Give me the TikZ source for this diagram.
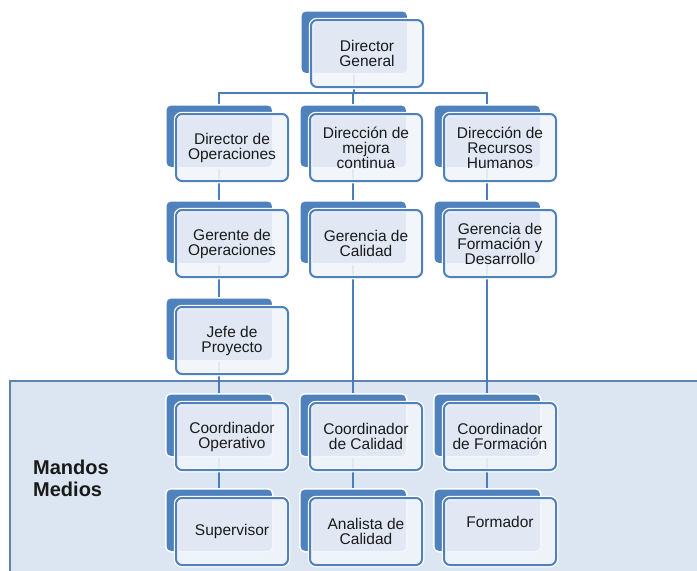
\documentclass[tikz,border=0pt]{standalone}
\usepackage{fontspec}
\setmainfont{Liberation Sans}
\usetikzlibrary{calc}
\definecolor{boxblue}{HTML}{4F81BD}
\definecolor{linkblue}{HTML}{4A7EBB}
\definecolor{bandfill}{HTML}{DCE6F2}
\definecolor{bandline}{HTML}{5E82B0}
\definecolor{frontfill}{HTML}{F1F4FA}
\definecolor{txt}{HTML}{1A1A1A}
\pgfdeclarelayer{bandlayer}
\pgfdeclarelayer{linelayer}
\pgfsetlayers{bandlayer,linelayer,main}
\tikzset{
  backbox/.style={fill=boxblue, draw=white, line width=1.5pt, rounded corners=5pt,
    minimum width=107pt, minimum height=63pt, inner sep=0pt, anchor=north west},
  frontbox/.style={fill=frontfill, fill opacity=0.9, draw=boxblue, line width=2pt,
    rounded corners=6pt, minimum width=112pt, minimum height=67pt, inner sep=0pt,
    anchor=north west, preaction={draw=white, line width=4.5pt, fill=none}},
  boxtext/.style={font=\fontsize{15.5}{15}\selectfont, align=center, text=txt, inner sep=0pt},
  conn/.style={draw=linkblue, line width=2pt},
}
\newcommand\orgbox[5][0pt]{%
  \node[backbox] (#2) at (#3,#4) {};
  \node[frontbox] (#2f) at ($(#2.north west)+(10,9)$) {};
  \node[boxtext] (#2t) at ([yshift=#1]#2f.center) {#5};
}
\begin{document}
\begin{tikzpicture}[x=1pt,y=-1pt]
\useasboundingbox (0,0) rectangle (697,571);
% boxes
\orgbox{dg}{300}{10}{Director\\General}
\orgbox{dop}{165}{104}{Director de\\Operaciones}
\orgbox{dmc}{299}{104}{Dirección de\\mejora\\continua}
\orgbox{drh}{433}{104}{Dirección de\\Recursos\\Humanos}
\orgbox{gop}{165}{200}{Gerente de\\Operaciones}
\orgbox{gca}{299}{200}{Gerencia de\\Calidad}
\orgbox{gfd}{433}{200}{Gerencia de\\Formación y\\Desarrollo}
\orgbox{jp}{165}{297}{Jefe de\\Proyecto}
\orgbox{cop}{165}{393}{Coordinador\\Operativo}
\orgbox{cca}{299}{393}{Coordinador\\de Calidad}
\orgbox{cfo}{433}{393}{Coordinador\\de Formación}
\orgbox{sup}{165}{488}{Supervisor}
\orgbox{aca}{299}{488}{Analista de\\Calidad}
\orgbox[10pt]{fmd}{433}{488}{Formador}
\node[font=\bfseries\fontsize{20}{22}\selectfont, align=left, anchor=west, text=txt, inner sep=0pt] (mm) at (33,478) {Mandos\\Medios};
\coordinate (bus) at (0,93);
% band
\begin{pgfonlayer}{bandlayer}
  \begin{scope}
    \clip (0,0) rectangle (697,571);
    \path[fill=bandfill, draw=bandline, line width=1.6pt] (10,381) rectangle (720,600);
  \end{scope}
\end{pgfonlayer}
% connectors
\begin{pgfonlayer}{linelayer}
  \draw[conn] (dg.center) -- (dg.center |- bus);
  \draw[conn] (dop.center) -- (dop.center |- bus) -- (drh.center |- bus) -- (drh.center);
  \draw[conn] (dmc.center) -- (dmc.center |- bus);
  \draw[conn] (dop) -- (gop);
  \draw[conn] (gop) -- (jp);
  \draw[conn] (jp) -- (cop);
  \draw[conn] (cop) -- (sup);
  \draw[conn] (dmc) -- (gca);
  \draw[conn] (gca) -- (cca);
  \draw[conn] (cca) -- (aca);
  \draw[conn] (drh) -- (gfd);
  \draw[conn] (gfd) -- (cfo);
  \draw[conn] (cfo) -- (fmd);
\end{pgfonlayer}
\end{tikzpicture}
\end{document}
